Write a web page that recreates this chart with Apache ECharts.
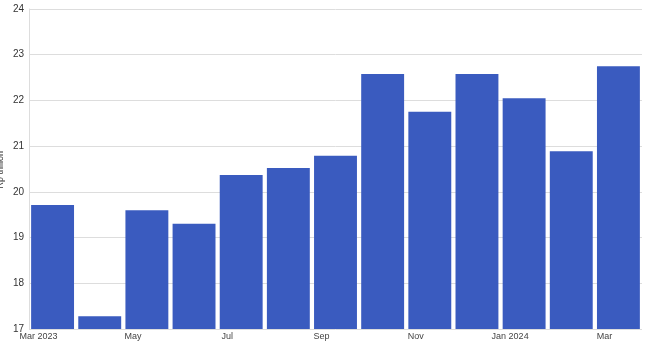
<!DOCTYPE html>
<html><head><meta charset="utf-8">
<script src="https://cdn.jsdelivr.net/npm/echarts@6/dist/echarts.min.js"></script>
<style>html,body{margin:0;padding:0;background:#fff}#c{width:660px;height:357px}</style>
</head><body><div id="c"></div>
<script>
const categories = ["Mar 2023","Apr","May","Jun","Jul","Aug","Sep","Oct","Nov","Dec","Jan 2024","Feb","Mar"];
const values = [19.71, 17.28, 19.60, 19.30, 20.37, 20.52, 20.79, 22.58, 21.75, 22.58, 22.05, 20.89, 22.75];
const yTicks = [17, 18, 19, 20, 21, 22, 23, 24];
const yName = "Rp trillion";

const chart = echarts.init(document.getElementById('c'));
chart.setOption({
  animation: false,
  grid: {left: 29, right: 18, top: 9, bottom: 28, containLabel: false, outerBoundsMode: 'none'},
  xAxis: {
    type: 'category', data: categories,
    axisLine: {show: false}, axisTick: {show: false},
    axisLabel: {interval: 1, color: '#444', fontSize: 9, fontFamily: 'Liberation Sans, Arial', margin: 3, padding: [0, 28, 0, 0]}
  },
  yAxis: {
    type: 'value', min: yTicks[0], max: yTicks[yTicks.length-1], interval: 1,
    axisLine: {show: true, lineStyle: {color: '#ddd'}}, axisTick: {show: false},
    axisLabel: {color: '#333', fontSize: 10, fontFamily: 'Liberation Sans, Arial', margin: 5},
    splitLine: {lineStyle: {color: '#ddd'}}
  },
  graphic: [{
    type: 'text', left: -4, top: 151, rotation: Math.PI / 2,
    style: {text: yName, fill: '#333', fontSize: 9, fontFamily: 'Liberation Sans, Arial'}
  }],
  series: [{
    type: 'bar', data: values, barCategoryGap: '9%',
    itemStyle: {color: '#3a5bbf'}
  }]
});
</script></body></html>
